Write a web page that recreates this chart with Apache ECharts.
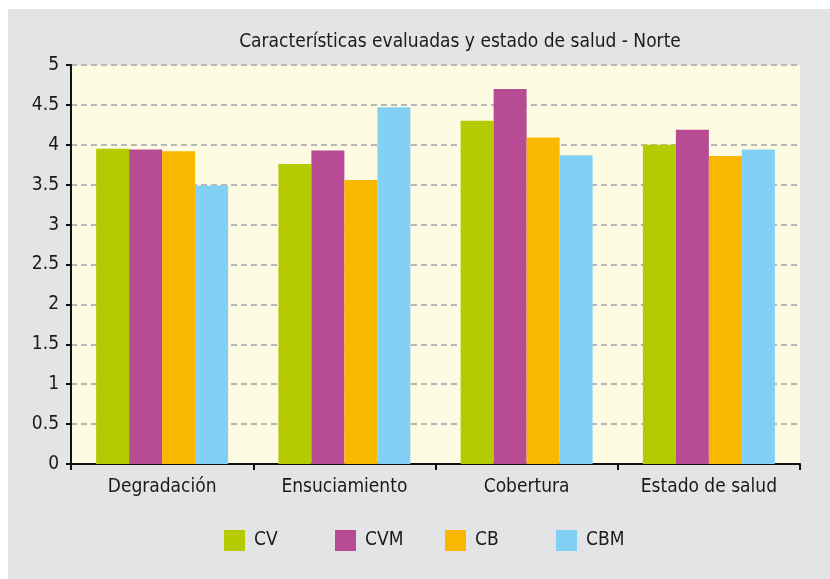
<!DOCTYPE html>
<html>
<head>
<meta charset="utf-8">
<script src="https://cdn.jsdelivr.net/npm/echarts@6/dist/echarts.min.js"></script>
<style>
html,body{margin:0;padding:0;background:#fff;}
#c{width:830px;height:579px;}
</style>
</head>
<body>
<div id="c"></div>
<script>
var categories = ['Degradación', 'Ensuciamiento', 'Cobertura', 'Estado de salud'];
var seriesNames = ['CV', 'CVM', 'CB', 'CBM'];
var CV  = [3.95, 3.76, 4.30, 4.00];
var CVM = [3.94, 3.93, 4.70, 4.19];
var CB  = [3.92, 3.56, 4.09, 3.86];
var CBM = [3.49, 4.47, 3.87, 3.94];
var colors = ['#b5ca00', '#b84c94', '#fab700', '#82d0f4'];
var titleText = 'Características evaluadas y estado de salud - Norte';
var legendLefts = [224, 335, 445, 556];

var FONT = '"DejaVu Sans Condensed", "Liberation Sans Narrow", "Roboto", sans-serif';
var chart = echarts.init(document.getElementById('c'));
var dataSets = [CV, CVM, CB, CBM];
var series = seriesNames.map(function (n, i) {
  return {
    name: n,
    type: 'bar',
    data: dataSets[i],
    barWidth: 33,
    barGap: '0%',
    itemStyle: { color: colors[i] }
  };
});
var legends = seriesNames.map(function (n, i) {
  return {
    data: [n],
    left: legendLefts[i], top: 530,
    padding: 0,
    itemWidth: 21, itemHeight: 21,
    icon: 'rect',
    textStyle: { fontFamily: FONT, fontSize: 19, color: '#1a1a1a', padding: [0, 0, 0, 4] }
  };
});
chart.setOption({
  animation: false,
  backgroundColor: '#ffffff',
  color: colors,
  graphic: [{
    type: 'rect', z: -10, silent: true,
    shape: { x: 8, y: 9, width: 822, height: 570 },
    style: { fill: '#e3e4e6' }
  }],
  title: {
    text: titleText,
    left: 455, top: 28, textAlign: 'center',
    textStyle: { fontFamily: FONT, fontSize: 19, fontWeight: 'normal', color: '#1a1a1a' }
  },
  legend: legends,
  grid: {
    left: 71, top: 65, right: 30, bottom: 115,
    show: true, backgroundColor: '#fdfbe2', borderWidth: 0
  },
  xAxis: {
    type: 'category',
    data: categories,
    axisLine: { lineStyle: { color: '#111', width: 2 } },
    axisTick: { show: true, length: 6, lineStyle: { color: '#111', width: 2 }, alignWithLabel: false },
    axisLabel: { fontFamily: FONT, fontSize: 19, color: '#1a1a1a', margin: 14 }
  },
  yAxis: {
    type: 'value',
    min: 0, max: 5, interval: 0.5,
    axisLine: { show: true, lineStyle: { color: '#111', width: 2 } },
    axisTick: { show: true, length: 5, lineStyle: { color: '#111', width: 2 } },
    axisLabel: { fontFamily: FONT, fontSize: 19, color: '#1a1a1a', margin: 12 },
    splitLine: { show: true, lineStyle: { color: '#b8b8b8', width: 2, type: [6, 4] } }
  },
  series: series
});
</script>
</body>
</html>
